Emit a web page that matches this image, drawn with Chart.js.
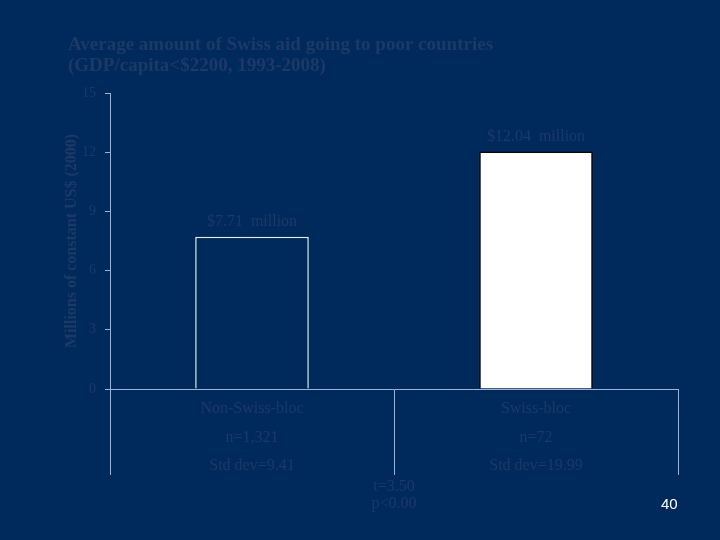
<!DOCTYPE html>
<html>
<head>
<meta charset="utf-8">
<script src="https://cdn.jsdelivr.net/npm/chart.js@4"></script>
<style>
  html, body { margin: 0; padding: 0; background: #002a5c; }
  #wrap { position: relative; width: 720px; height: 540px; }
  #pg { position: absolute; left: 661px; top: 495px; color: #ffffff; font: 15px "Liberation Sans", Arial, sans-serif; }
</style>
</head>
<body>
<div id="wrap">
  <canvas id="c"></canvas>
  <div id="pg">40</div>
</div>
<script>
const categories = ['Non-Swiss-bloc', 'Swiss-bloc'];
const nLabels = ['n=1,321', 'n=72'];
const sdLabels = ['Std dev=9.41', 'Std dev=19.99'];
const values = [7.71, 12.04];
const valueLabels = ['$7.71  million', '$12.04  million'];
const testLines = ['t=3.50', 'p<0.00'];
const titleLines = ['Average amount of Swiss aid going to poor countries', '(GDP/capita<$2200, 1993-2008)'];
const yTitle = 'Millions of constant US$ (2000)';

const BG = '#002a5c';
const DIM = '#1b3a67';
const AXIS = '#9fb3d1';
const SERIF = "'Liberation Serif', 'Times New Roman', serif";

const labels = categories.map((c, i) => [c, nLabels[i], sdLabels[i]]);

const annot = {
  id: 'annot',
  afterDatasetsDraw(chart) {
    const ctx = chart.ctx;
    const meta = chart.getDatasetMeta(0);
    ctx.save();
    ctx.fillStyle = DIM;
    ctx.font = '16px ' + SERIF;
    ctx.textAlign = 'center';
    ctx.textBaseline = 'middle';
    meta.data.forEach((bar, i) => {
      ctx.fillText(valueLabels[i], bar.x, bar.y - 15);
    });
    const xs = chart.scales.x;
    const mid = (xs.getPixelForValue(0) + xs.getPixelForValue(1)) / 2;
    const base = chart.scales.y.getPixelForValue(0);
    testLines.forEach((t, i) => {
      ctx.fillText(t, mid, base + 98 + i * 17);
    });
    ctx.restore();
  }
};

new Chart(document.getElementById('c'), {
  type: 'bar',
  data: {
    labels: labels,
    datasets: [{
      data: values,
      backgroundColor: [BG, '#ffffff'],
      borderColor: ['#e8f0f8', '#000000'],
      borderWidth: 1.5,
      barPercentage: 0.4,
      categoryPercentage: 1
    }]
  },
  options: {
    responsive: true,
    maintainAspectRatio: false,
    animation: false,
    layout: { padding: { left: 68, right: 42, top: 33, bottom: 51 } },
    plugins: {
      legend: { display: false },
      tooltip: { enabled: false },
      title: {
        display: true,
        text: titleLines,
        align: 'start',
        color: DIM,
        font: { family: SERIF, size: 19, weight: 'bold', lineHeight: '21px' },
        padding: { top: 2, bottom: 16 }
      }
    },
    scales: {
      x: {
        grid: { offset: true, drawOnChartArea: false, drawTicks: true, tickLength: 86, color: AXIS, lineWidth: 1 },
        border: { color: AXIS, width: 1 },
        ticks: {
          color: DIM,
          font: { family: SERIF, size: 16, lineHeight: '28.5px' },
          padding: -80,
          maxRotation: 0,
          autoSkip: false
        },
        afterFit(scale) { scale.height = 100; }
      },
      y: {
        min: 0,
        max: 15,
        ticks: { stepSize: 3, color: DIM, font: { family: SERIF, size: 14 }, padding: 9 },
        grid: { drawOnChartArea: false, drawTicks: true, tickLength: 5, color: AXIS },
        border: { color: AXIS, width: 1 },
        title: {
          display: true,
          text: yTitle,
          color: DIM,
          font: { family: SERIF, size: 16, weight: 'bold' },
          padding: { top: -6, bottom: 0 }
        },
        afterFit(scale) { scale.width = 42; }
      }
    }
  },
  plugins: [annot]
});
</script>
</body>
</html>
